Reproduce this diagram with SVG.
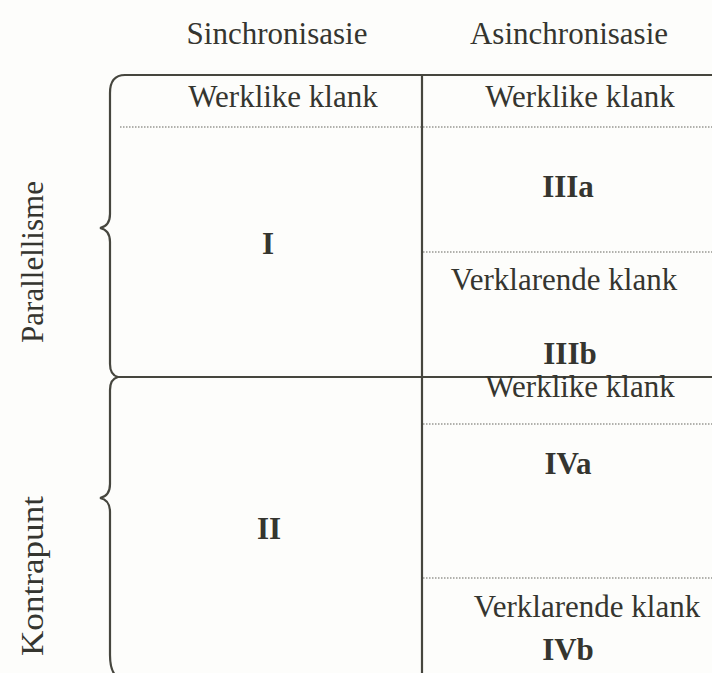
<svg xmlns="http://www.w3.org/2000/svg" width="712" height="673" viewBox="0 0 712 673">
<style>
.t{font-family:"Liberation Serif","Times New Roman",serif;font-size:31px;fill:#35352f;text-anchor:middle}
.b{font-weight:bold}
.ln{stroke:#46463e;stroke-width:2.2;fill:none}
.dot{stroke:#66665e;stroke-width:1.2;stroke-dasharray:1.5 1.5;fill:none}
</style>
<rect width="712" height="673" fill="#fdfdfb"/>
<g id="headers">
<text class="t" x="277" y="44">Sinchronisasie</text>
<text class="t" x="569" y="44">Asinchronisasie</text>
</g>
<g id="sidelabels">
<text class="t" transform="translate(43,262) rotate(-90)">Parallellisme</text>
<text class="t" transform="translate(43,576) rotate(-90)" textLength="160" lengthAdjust="spacingAndGlyphs">Kontrapunt</text>
</g>
<g id="connectors">
<path class="ln" d="M712,75 H125 Q110,75 110,93 V214 Q110,226 100,228 Q110,230 110,242 V364 Q110,375 118,377 H712"/>
<path class="ln" d="M118,377 Q110,379 110,390 V484 Q110,496 100,498 Q110,500 110,512 V655 Q110,670 116,676"/>
<line class="ln" x1="422" y1="75" x2="422" y2="673"/>
<line class="dot" x1="120" y1="127" x2="712" y2="127"/>
<line class="dot" x1="423" y1="252" x2="712" y2="252"/>
<line class="dot" x1="423" y1="424" x2="712" y2="424"/>
<line class="dot" x1="423" y1="578" x2="712" y2="578"/>
</g>
<g id="node-I">
<text class="t" x="283" y="107">Werklike klank</text>
<text class="t b" x="268" y="254">I</text>
</g>
<g id="node-III">
<text class="t" x="580" y="107">Werklike klank</text>
<text class="t b" x="568" y="197">IIIa</text>
<text class="t" x="564" y="290">Verklarende klank</text>
<text class="t b" x="570" y="364">IIIb</text>
</g>
<g id="node-II">
<text class="t b" x="269" y="539">II</text>
</g>
<g id="node-IV">
<text class="t" x="580" y="397">Werklike klank</text>
<text class="t b" x="568" y="474">IVa</text>
<text class="t" x="587" y="617">Verklarende klank</text>
<text class="t b" x="568" y="660">IVb</text>
</g>
</svg>
